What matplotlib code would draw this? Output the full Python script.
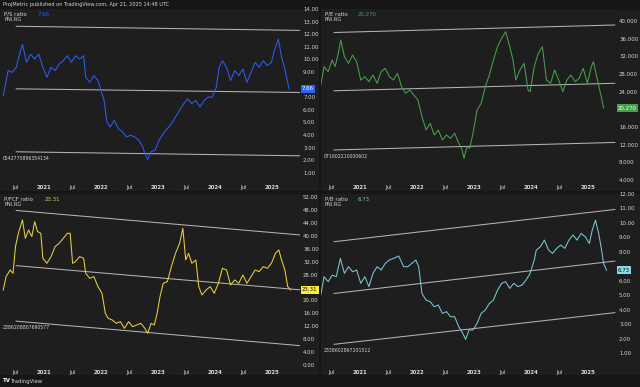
import matplotlib
matplotlib.use('Agg')
import matplotlib.pyplot as plt
from matplotlib.patches import Rectangle

# ---------------- data ----------------
ps_t = [2020.293, 2020.379, 2020.45, 2020.521, 2020.579, 2020.629, 2020.7, 2020.771, 2020.843, 2020.914,
        2020.986, 2021.057, 2021.129, 2021.2, 2021.271, 2021.343, 2021.414, 2021.486, 2021.557, 2021.629,
        2021.7, 2021.736, 2021.807, 2021.879, 2021.95, 2022.021, 2022.057, 2022.107, 2022.164, 2022.236,
        2022.307, 2022.379, 2022.45, 2022.521, 2022.593, 2022.664, 2022.736, 2022.771, 2022.821, 2022.879,
        2022.95, 2023.021, 2023.093, 2023.164, 2023.236, 2023.307, 2023.379, 2023.45, 2023.521, 2023.593,
        2023.664, 2023.736, 2023.807, 2023.879, 2023.95, 2024.021, 2024.071, 2024.129, 2024.2, 2024.271,
        2024.343, 2024.414, 2024.486, 2024.557, 2024.629, 2024.7, 2024.771, 2024.843, 2024.914, 2024.986,
        2025.036, 2025.107, 2025.164, 2025.214, 2025.257, 2025.293]
ps_v = [7.13, 9.11, 8.97, 9.37, 10.42, 11.21, 9.76, 10.42, 10.03, 10.42,
        9.37, 8.58, 9.37, 9.11, 9.63, 9.89, 10.29, 9.76, 10.29, 10.03,
        10.29, 8.58, 8.18, 8.71, 8.32, 7.26, 6.74, 5.03, 4.63, 5.16,
        4.50, 4.24, 3.84, 3.97, 3.84, 3.58, 3.05, 2.53, 2.05, 2.66,
        2.79, 3.58, 4.11, 4.50, 4.89, 5.42, 5.95, 6.47, 6.87, 6.47,
        6.74, 6.21, 6.74, 7.00, 7.00, 7.79, 9.37, 9.89, 9.37, 8.32,
        9.11, 8.71, 9.24, 8.18, 8.97, 9.76, 9.37, 9.89, 9.50, 9.76,
        10.68, 11.61, 10.16, 9.37, 8.45, 7.66]

pe_t = [2020.305, 2020.362, 2020.434, 2020.505, 2020.556, 2020.613, 2020.656, 2020.72, 2020.792, 2020.864,
        2020.935, 2021.007, 2021.079, 2021.151, 2021.222, 2021.294, 2021.366, 2021.437, 2021.509, 2021.581,
        2021.652, 2021.724, 2021.796, 2021.867, 2021.939, 2022.011, 2022.082, 2022.154, 2022.226, 2022.297,
        2022.369, 2022.441, 2022.513, 2022.584, 2022.656, 2022.728, 2022.778, 2022.821, 2022.871, 2022.921,
        2022.978, 2023.05, 2023.122, 2023.194, 2023.265, 2023.337, 2023.409, 2023.48, 2023.552, 2023.624,
        2023.681, 2023.731, 2023.803, 2023.875, 2023.946, 2023.982, 2024.054, 2024.125, 2024.197, 2024.269,
        2024.341, 2024.412, 2024.484, 2024.556, 2024.627, 2024.699, 2024.771, 2024.842, 2024.914, 2024.986,
        2025.057, 2025.093, 2025.165, 2025.237, 2025.272]
pe_v = [25.51, 29.66, 28.53, 31.17, 29.66, 32.68, 35.70, 31.92, 30.42, 32.30,
        30.79, 26.64, 27.40, 26.26, 27.77, 25.89, 28.53, 29.28, 27.40, 26.64,
        28.15, 25.13, 23.62, 24.38, 23.25, 22.11, 18.34, 15.32, 16.83, 14.19,
        15.32, 13.06, 14.19, 13.43, 14.57, 12.30, 11.17, 8.91, 11.55, 11.17,
        14.57, 19.85, 21.36, 25.13, 27.77, 31.17, 34.19, 36.08, 37.58, 34.19,
        31.17, 26.64, 28.91, 30.42, 24.38, 24.00, 29.66, 32.68, 34.19, 26.64,
        25.89, 28.91, 26.64, 24.00, 26.64, 27.77, 26.26, 27.02, 29.28, 25.89,
        29.66, 30.79, 26.64, 22.49, 20.27]

pfcf_t = [2020.293, 2020.343, 2020.414, 2020.464, 2020.507, 2020.557, 2020.629, 2020.679, 2020.736, 2020.793,
          2020.843, 2020.893, 2020.95, 2020.986, 2021.057, 2021.129, 2021.2, 2021.271, 2021.343, 2021.414,
          2021.464, 2021.507, 2021.557, 2021.629, 2021.7, 2021.736, 2021.807, 2021.879, 2021.95, 2022.021,
          2022.079, 2022.129, 2022.2, 2022.271, 2022.343, 2022.414, 2022.486, 2022.557, 2022.629, 2022.7,
          2022.771, 2022.821, 2022.879, 2022.936, 2022.986, 2023.036, 2023.093, 2023.164, 2023.236, 2023.307,
          2023.379, 2023.436, 2023.486, 2023.536, 2023.593, 2023.664, 2023.714, 2023.771, 2023.843, 2023.914,
          2023.986, 2024.057, 2024.129, 2024.2, 2024.271, 2024.343, 2024.414, 2024.486, 2024.557, 2024.629,
          2024.7, 2024.771, 2024.843, 2024.914, 2024.986, 2025.057, 2025.114, 2025.164, 2025.221, 2025.271,
          2025.321]
pfcf_v = [23.26, 27.40, 29.46, 28.43, 36.70, 40.83, 44.97, 39.28, 41.87, 39.80,
          44.45, 41.35, 40.83, 33.08, 31.53, 33.60, 36.70, 37.73, 39.28, 40.83,
          40.83, 31.53, 32.05, 33.60, 33.08, 28.43, 26.88, 27.40, 24.29, 22.23,
          16.02, 14.47, 13.96, 12.92, 13.44, 11.37, 13.44, 11.89, 12.41, 12.92,
          11.37, 9.82, 12.92, 12.41, 16.02, 21.19, 25.33, 25.84, 30.50, 34.63,
          37.73, 42.39, 32.56, 34.63, 31.53, 32.56, 24.29, 21.71, 23.26, 24.29,
          22.23, 25.33, 29.98, 29.46, 24.81, 26.36, 25.33, 27.91, 25.33, 27.40,
          29.46, 28.95, 30.50, 29.98, 31.53, 34.63, 35.67, 32.56, 29.46, 24.29,
          23.31]

pb_t = [2020.305, 2020.362, 2020.434, 2020.505, 2020.577, 2020.649, 2020.72, 2020.792, 2020.864, 2020.935,
        2021.007, 2021.079, 2021.151, 2021.222, 2021.294, 2021.366, 2021.437, 2021.509, 2021.581, 2021.674,
        2021.76, 2021.832, 2021.903, 2021.975, 2022.025, 2022.082, 2022.154, 2022.226, 2022.297, 2022.369,
        2022.441, 2022.513, 2022.584, 2022.656, 2022.728, 2022.799, 2022.849, 2022.907, 2022.978, 2023.05,
        2023.122, 2023.194, 2023.265, 2023.337, 2023.409, 2023.48, 2023.552, 2023.624, 2023.695, 2023.767,
        2023.839, 2023.91, 2023.982, 2024.054, 2024.09, 2024.161, 2024.233, 2024.305, 2024.376, 2024.448,
        2024.52, 2024.591, 2024.663, 2024.735, 2024.806, 2024.878, 2024.95, 2025.022, 2025.072, 2025.129,
        2025.186, 2025.237, 2025.272, 2025.323]
pb_v = [5.01, 6.28, 5.93, 6.39, 6.28, 7.54, 6.51, 6.97, 6.62, 6.74,
        5.82, 6.28, 5.59, 6.51, 6.97, 6.74, 7.20, 7.43, 7.54, 7.71,
        6.97, 6.97, 7.20, 7.43, 6.97, 5.12, 4.66, 4.55, 4.20, 4.32,
        3.74, 3.86, 3.51, 3.51, 2.82, 2.36, 1.94, 2.59, 2.59, 3.05,
        3.74, 3.97, 4.43, 4.66, 5.35, 5.82, 5.93, 5.47, 5.82, 5.59,
        5.70, 6.05, 6.51, 7.43, 8.12, 8.35, 8.81, 8.12, 7.89, 8.24,
        8.47, 8.24, 8.81, 9.16, 8.81, 9.27, 9.04, 8.58, 9.50, 10.19,
        9.27, 8.12, 7.20, 6.73]

# channel lines: start/end time and values (top, middle, bottom)
ps_ch_t = [2020.52, 2025.49]
ps_ch = [[12.63, 12.30], [7.66, 7.37], [2.66, 2.34]]
pe_ch_t = [2020.54, 2025.47]
pe_ch = [[37.4, 39.1], [24.2, 25.9], [10.8, 12.5]]
pfcf_ch_t = [2020.52, 2025.49]
pfcf_ch = [[47.9, 40.3], [30.8, 23.3], [13.6, 6.0]]
pb_ch_t = [2020.54, 2025.47]
pb_ch = [[8.7, 10.93], [5.12, 7.36], [1.6, 3.79]]

x_ticks = [2020.5, 2021, 2021.5, 2022, 2022.5, 2023, 2023.5, 2024, 2024.5, 2025]
x_labels = ['Jul', '2021', 'Jul', '2022', 'Jul', '2023', 'Jul', '2024', 'Jul', '2025']

ps_yticks = list(range(1, 15))
pe_yticks = list(range(4, 41, 4))
pfcf_yticks = list(range(0, 53, 4))
pb_yticks = list(range(1, 13))

# ---------------- layout helpers ----------------
W, H = 640, 387
BG_PANEL = '#1e1e1e'
fig = plt.figure(figsize=(6.4, 3.87), dpi=100, facecolor='#161616')


def rect(x0, y0, x1, y1):
    return [x0 / W, 1 - y1 / H, (x1 - x0) / W, (y1 - y0) / H]


def panel_bg(x0, y0, x1, y1):
    r = Rectangle((x0 / W, 1 - y1 / H), (x1 - x0) / W, (y1 - y0) / H,
                  transform=fig.transFigure, facecolor=BG_PANEL, edgecolor='none', zorder=-10)
    fig.patches.append(r)


panel_bg(0, 10, 319, 191)
panel_bg(321, 10, 640, 191)
panel_bg(0, 194, 319, 375)
panel_bg(321, 194, 640, 375)

TXT = '#d6d6d6'
FS = 3.9


def make_panel(box, xlim, ylim, yticks, ydec, t, v, color, ch_t, ch, name, val_str,
               box_color, box_txt, id_str):
    ax = fig.add_axes(rect(*box))
    ax.set_facecolor(BG_PANEL)
    for s in ax.spines.values():
        s.set_visible(False)
    ax.set_xlim(*xlim)
    ax.set_ylim(*ylim)
    ax.yaxis.tick_right()
    px_per_unit = (box[3] - box[1]) / (ylim[1] - ylim[0])
    ax.set_yticks(yticks)
    labels = []
    for y in yticks:
        if abs(y - v[-1]) * px_per_unit < 5.5:
            labels.append('')
        else:
            labels.append(f'{y:.{ydec}f}')
    ax.set_yticklabels(labels, fontsize=FS, color=TXT)
    for lab in ax.get_yticklabels():
        lab.set_horizontalalignment('left')
    ax.tick_params(axis='y', length=0, pad=2.2)
    ax.set_xticks(x_ticks)
    ax.set_xticklabels(x_labels, fontsize=FS, color=TXT)
    for lab in ax.get_xticklabels():
        if lab.get_text() != 'Jul':
            lab.set_fontweight('bold')
    ax.tick_params(axis='x', length=0, pad=2.6)
    # channel
    for c in ch:
        ax.plot(ch_t, c, color='#b4b4b4', lw=0.75, zorder=2)
    ax.plot(t, v, color=color, lw=0.75, zorder=3)
    # last value box
    ax.annotate(val_str, xy=(1.0, v[-1]), xycoords=('axes fraction', 'data'),
                xytext=(1.4, 0), textcoords='offset points', ha='left', va='center',
                fontsize=FS, color=box_txt, annotation_clip=False, zorder=5,
                bbox=dict(boxstyle='square,pad=0.25', fc=box_color, ec='none'))
    # legend
    ax.text(0.015, 0.985, name, transform=ax.transAxes, fontsize=FS, color=TXT,
            ha='left', va='top')
    ax.text(0.015 + 0.011 * len(name) + 0.012, 0.985, val_str, transform=ax.transAxes,
            fontsize=FS, color=color, ha='left', va='top')
    ax.text(0.015, 0.955, 'PNI.RG', transform=ax.transAxes, fontsize=FS - 0.3, color=TXT,
            ha='left', va='top')
    # id label under bottom channel line
    ax.annotate(id_str, xy=(0.01, ch[2][0]), xycoords=('axes fraction', 'data'),
                xytext=(0, -3), textcoords='offset points', ha='left', va='top',
                fontsize=FS - 0.6, color=TXT)
    return ax


make_panel((0, 9, 300, 181), (2020.236, 2025.486), (0.34, 13.92), ps_yticks, 2,
           ps_t, ps_v, '#2f5cf0', ps_ch_t, ps_ch, 'P/S ratio', '7.66', '#2962ff', 'white',
           '0542770896354134')
make_panel((320.5, 9, 616, 181), (2020.30, 2025.49), (3.77, 42.72), pe_yticks, 3,
           pe_t, pe_v, '#48a04c', pe_ch_t, pe_ch, 'P/E ratio', '20.270', '#43a047', 'white',
           '071602210000602')
make_panel((0, 194, 300, 366), (2020.236, 2025.486), (-0.3, 53.0), pfcf_yticks, 2,
           pfcf_t, pfcf_v, '#e8cf3e', pfcf_ch_t, pfcf_ch, 'P/FCF ratio', '23.31', '#ffeb3b', '#111111',
           '2386208807690577')
make_panel((320.5, 194, 616, 366), (2020.30, 2025.49), (0.10, 11.99), pb_yticks, 2,
           pb_t, pb_v, '#7cc6d4', pb_ch_t, pb_ch, 'P/B ratio', '6.73', '#80deea', '#111111',
           '2338602867201512')

# header / footer
fig.text(3 / W, 1 - 4.5 / H, 'ProjMetric published on TradingView.com, Apr 21, 2025 14:48 UTC',
         fontsize=3.6, color=TXT, ha='left', va='center')
fig.text(3 / W, 1 - 381 / H, 'TV', fontsize=4, color='white', fontweight='bold', ha='left', va='center')
fig.text(11 / W, 1 - 381 / H, 'TradingView', fontsize=3.8, color=TXT, ha='left', va='center')

fig.savefig('out.png', dpi=100, facecolor=fig.get_facecolor())
